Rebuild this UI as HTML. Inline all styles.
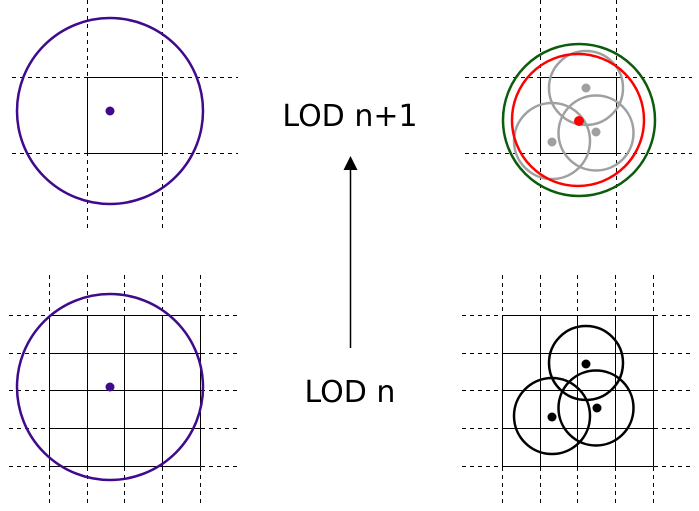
<!DOCTYPE html>
<html><head><meta charset="utf-8"><style>
html,body{margin:0;padding:0;background:#fff;}
svg{display:block;}
text{font-family:"DejaVu Sans","Liberation Sans",sans-serif;font-size:30px;fill:#000;}
.d{stroke:#000;stroke-width:1;stroke-dasharray:4,4;fill:none;}
.s{stroke:#000;stroke-width:1;fill:none;}
</style></head><body>
<svg width="699" height="511" viewBox="0 0 699 511">
<g>
<line class="d" x1="87.5" y1="0" x2="87.5" y2="228"/><line class="d" x1="162.5" y1="0" x2="162.5" y2="228"/>
<line class="d" x1="12" y1="77.5" x2="238" y2="77.5"/><line class="d" x1="12" y1="153.5" x2="238" y2="153.5"/>
<rect class="s" x="87.5" y="77.5" width="75" height="76"/>
<circle cx="110" cy="111" r="93" fill="none" stroke="#3f0a8c" stroke-width="2.5"/>
<circle cx="110" cy="111" r="4.5" fill="#3f0a8c"/>
</g>
<g>
<line class="d" x1="49.5" y1="275" x2="49.5" y2="506"/><line class="d" x1="87.5" y1="275" x2="87.5" y2="506"/><line class="d" x1="124.5" y1="275" x2="124.5" y2="506"/><line class="d" x1="162.5" y1="275" x2="162.5" y2="506"/><line class="d" x1="200.5" y1="275" x2="200.5" y2="506"/>
<line class="d" x1="9" y1="315.5" x2="240" y2="315.5"/><line class="d" x1="9" y1="353.5" x2="240" y2="353.5"/><line class="d" x1="9" y1="390.5" x2="240" y2="390.5"/><line class="d" x1="9" y1="428.5" x2="240" y2="428.5"/><line class="d" x1="9" y1="466.5" x2="240" y2="466.5"/>
<g class="s">
<line x1="49.5" y1="315.5" x2="49.5" y2="466.5"/><line x1="87.5" y1="315.5" x2="87.5" y2="466.5"/><line x1="124.5" y1="315.5" x2="124.5" y2="466.5"/><line x1="162.5" y1="315.5" x2="162.5" y2="466.5"/><line x1="200.5" y1="315.5" x2="200.5" y2="466.5"/>
<line x1="49.5" y1="315.5" x2="200.5" y2="315.5"/><line x1="49.5" y1="353.5" x2="200.5" y2="353.5"/><line x1="49.5" y1="390.5" x2="200.5" y2="390.5"/><line x1="49.5" y1="428.5" x2="200.5" y2="428.5"/><line x1="49.5" y1="466.5" x2="200.5" y2="466.5"/>
</g>
<circle cx="110" cy="387" r="93" fill="none" stroke="#3f0a8c" stroke-width="2.5"/>
<circle cx="110" cy="387" r="4.5" fill="#3f0a8c"/>
</g>
<g>
<line class="d" x1="540.5" y1="0" x2="540.5" y2="228"/><line class="d" x1="616.5" y1="0" x2="616.5" y2="228"/>
<line class="d" x1="465" y1="77.5" x2="692" y2="77.5"/><line class="d" x1="465" y1="153.5" x2="692" y2="153.5"/>
<rect class="s" x="540.5" y="77.5" width="76" height="76"/>
<g fill="none" stroke="#a0a0a0" stroke-width="2.5">
<circle cx="586" cy="88" r="37"/><circle cx="552" cy="141" r="38"/><circle cx="596" cy="133" r="37.5"/>
</g>
<g fill="#a0a0a0"><circle cx="586" cy="88" r="4.5"/><circle cx="552" cy="142" r="4.5"/><circle cx="596" cy="132" r="4.5"/></g>
<circle cx="579" cy="120" r="76" fill="none" stroke="#0b5c0b" stroke-width="2.5"/>
<circle cx="578" cy="120" r="66" fill="none" stroke="#f00" stroke-width="2.5"/>
<circle cx="579" cy="121" r="5" fill="#f00"/>
</g>
<g>
<line class="d" x1="502.5" y1="275" x2="502.5" y2="506"/><line class="d" x1="540.5" y1="275" x2="540.5" y2="506"/><line class="d" x1="577.5" y1="275" x2="577.5" y2="506"/><line class="d" x1="615.5" y1="275" x2="615.5" y2="506"/><line class="d" x1="653.5" y1="275" x2="653.5" y2="506"/>
<line class="d" x1="462" y1="315.5" x2="692" y2="315.5"/><line class="d" x1="462" y1="353.5" x2="692" y2="353.5"/><line class="d" x1="462" y1="390.5" x2="692" y2="390.5"/><line class="d" x1="462" y1="428.5" x2="692" y2="428.5"/><line class="d" x1="462" y1="466.5" x2="692" y2="466.5"/>
<g class="s">
<line x1="502.5" y1="315.5" x2="502.5" y2="466.5"/><line x1="540.5" y1="315.5" x2="540.5" y2="466.5"/><line x1="577.5" y1="315.5" x2="577.5" y2="466.5"/><line x1="615.5" y1="315.5" x2="615.5" y2="466.5"/><line x1="653.5" y1="315.5" x2="653.5" y2="466.5"/>
<line x1="502.5" y1="315.5" x2="653.5" y2="315.5"/><line x1="502.5" y1="353.5" x2="653.5" y2="353.5"/><line x1="502.5" y1="390.5" x2="653.5" y2="390.5"/><line x1="502.5" y1="428.5" x2="653.5" y2="428.5"/><line x1="502.5" y1="466.5" x2="653.5" y2="466.5"/>
</g>
<g fill="none" stroke="#000" stroke-width="2.5">
<circle cx="586" cy="363" r="37"/><circle cx="552" cy="416" r="38"/><circle cx="596" cy="408" r="37.5"/>
</g>
<g fill="#000"><circle cx="586" cy="364" r="4.5"/><circle cx="552" cy="417" r="4.5"/><circle cx="597" cy="408" r="4.5"/></g>
</g>
<text x="350" y="126" text-anchor="middle">LOD n+1</text>
<text x="350" y="402" text-anchor="middle">LOD n</text>
<g>
<line x1="350.5" y1="168" x2="350.5" y2="348" stroke="#000" stroke-width="1.5"/>
<polygon points="350.5,156 343.5,170 357.5,170" fill="#000"/>
</g>
</svg>
</body></html>
